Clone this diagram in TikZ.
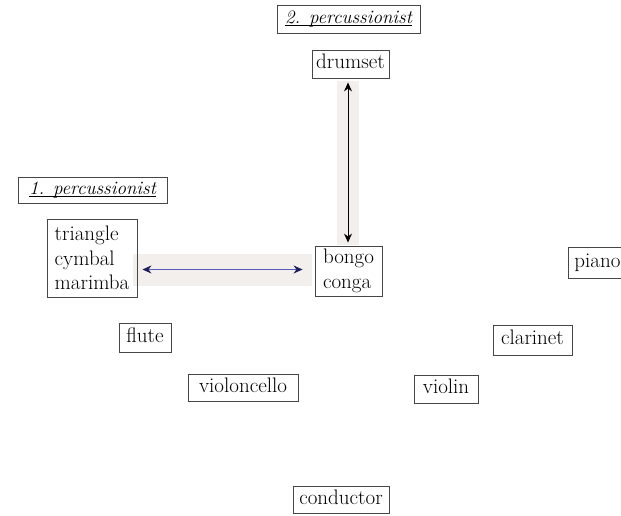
\documentclass[tikz,border=0pt]{standalone}
\usetikzlibrary{arrows.meta}
\definecolor{boxline}{RGB}{70,70,70}
\definecolor{bandfill}{RGB}{242,239,236}
\definecolor{blueline}{RGB}{90,90,190}
\definecolor{bluehead}{RGB}{30,30,90}
\newcommand{\myul}[1]{\setbox0\hbox{#1}\rlap{\rule[-2.6pt]{\wd0}{0.8pt}}\box0}
\begin{document}
\begin{tikzpicture}[x=1pt,y=-1pt,
  every node/.style={font=\rmfamily\fontsize{21}{24.5}\selectfont},
  box/.style={draw=boxline,line width=0.9pt,rectangle,inner xsep=0pt,inner ysep=0pt,
    text height=15pt,text depth=5.5pt,minimum height=28pt},
  mbox/.style={draw=boxline,line width=0.9pt,rectangle,inner xsep=0pt,inner ysep=0pt,align=left},
  titlebox/.style={box,font=\rmfamily\itshape\fontsize{19}{22}\selectfont,text height=14pt,text depth=6pt},
  band/.style={fill=bandfill,draw=none,inner sep=0pt},
  dblarrow/.style={{Stealth[length=9pt,width=8pt]}-{Stealth[length=9pt,width=8pt]},line width=1pt}
]
\useasboundingbox (0,0) rectangle (621,515);
% bands
\node[band,minimum width=22pt,minimum height=164pt] (vband) at (348,163) {};
\node[band,minimum width=179pt,minimum height=32pt] (hband) at (222.5,269.5) {};
% boxes
\node[titlebox,minimum width=143pt] (p2) at (348.5,19) {\myul{2. percussionist}};
\node[box,minimum width=77pt] (drumset) at (350.5,64) {drumset};
\node[titlebox,minimum width=149pt,minimum height=26pt] (p1) at (92.5,190) {\myul{1. percussionist}};
\node[mbox,minimum width=90pt,minimum height=78pt] (tri) at (92,258) {triangle\\cymbal\\marimba};
\node[mbox,minimum width=67pt,minimum height=50pt] (bongo) at (348.5,271) {bongo\\conga};
\node[box,draw=none,anchor=west,inner xsep=6pt,minimum height=30pt] (piano) at (568,263) {piano\hspace*{20pt}};
\draw[boxline,line width=0.9pt] (piano.north east) -- (piano.north west) -- (piano.south west) -- (piano.south east);
\node[box,minimum width=52pt,minimum height=29pt] (flute) at (145,337.5) {flute};
\node[box,minimum width=79pt,minimum height=30pt] (clarinet) at (532.5,340) {clarinet};
\node[box,minimum width=110pt,minimum height=27pt] (violoncello) at (243,387.5) {violoncello};
\node[box,minimum width=64pt] (violin) at (446,389) {violin};
\node[box,minimum width=96pt,minimum height=27pt] (conductor) at (341,499.5) {conductor};
% arrows
\draw[dblarrow,black,shorten <=4pt,shorten >=3pt] (drumset.south -| vband) -- (bongo.north -| vband);
\draw[blueline,line width=1.2pt,shorten <=5pt,shorten >=12pt,
  {Stealth[length=9pt,width=8pt,color=bluehead]}-{Stealth[length=9pt,width=8pt,color=bluehead]}]
  (tri.east |- hband) -- (bongo.west |- hband);
\end{tikzpicture}
\end{document}
